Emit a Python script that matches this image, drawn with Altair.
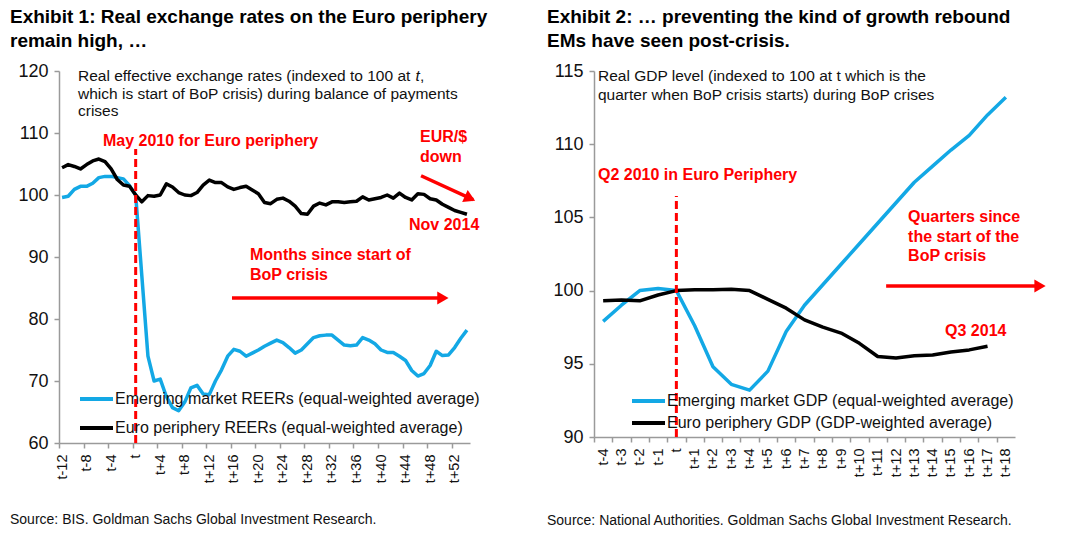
import altair as alt
import pandas as pd

FONT = "Liberation Sans"
RED = "#ff0000"
BLUE = "#13a8e5"
BLACK = "#000000"
GREY = "#9a9a9a"

# ---------------- Exhibit 1: monthly REERs, t-12 .. t+54 ----------------
months = list(range(-12, 55))
em_reer = [99.6, 99.8, 100.9, 101.4, 101.4, 101.9, 102.8, 103.0, 103.0, 102.8, 102.6, 101.5,
           100.0, 87.0, 74.0, 70.0, 70.3, 67.5, 65.7, 65.2, 66.6, 68.9, 69.3, 67.9,
           67.8, 70.0, 71.8, 74.0, 75.1, 74.8, 74.0, 74.5, 75.0, 75.6, 76.1, 76.6,
           76.2, 75.4, 74.5, 75.0, 76.0, 77.0, 77.3, 77.4, 77.4, 76.6, 75.8, 75.7,
           75.8, 77.0, 76.6, 76.0, 75.0, 74.6, 74.6, 74.0, 73.3, 71.7, 70.8, 71.2,
           72.5, 74.8, 74.1, 74.2, 75.4, 76.9, 78.2]
euro_reer = [104.4, 104.9, 104.6, 104.2, 104.9, 105.5, 105.8, 105.4, 104.2, 102.5, 101.6, 101.4,
             100.0, 98.9, 99.9, 99.8, 100.0, 101.8, 101.3, 100.4, 100.0, 99.9, 100.4, 101.6,
             102.4, 102.0, 102.0, 101.3, 100.9, 101.2, 101.4, 100.8, 100.2, 98.8, 98.6, 99.3,
             99.5, 99.0, 98.2, 97.0, 96.9, 98.2, 98.7, 98.4, 98.9, 98.9, 98.8, 98.9,
             99.0, 99.7, 99.2, 99.4, 99.6, 100.0, 99.5, 100.3, 99.6, 99.2, 100.2, 100.1,
             99.4, 99.2, 98.5, 98.0, 97.5, 97.2, 96.9]
month_tick_values = list(range(-12, 53, 4))
left_series = ["Emerging market REERs (equal-weighted average)",
               "Euro periphery REERs (equal-weighted average)"]

# ---------------- Exhibit 2: quarterly GDP, t-4 .. t+18 ----------------
quarters = list(range(-4, 19))
em_gdp = [97.9, 99.0, 100.0, 100.15, 100.0, 97.6, 94.8, 93.6, 93.2, 94.5, 97.2, 99.0,
          100.4, 101.8, 103.2, 104.6, 106.0, 107.4, 108.5, 109.6, 110.6, 112.0, 113.2]
euro_gdp = [99.3, 99.35, 99.3, 99.7, 100.0, 100.05, 100.05, 100.1, 100.0, 99.4, 98.8, 98.0,
            97.5, 97.1, 96.4, 95.5, 95.4, 95.55, 95.6, 95.8, 95.95, 96.2, None]
right_series = ["Emerging market GDP (equal-weighted average)",
                "Euro periphery GDP (GDP-weighted average)"]

LABEL_EXPR = "datum.value == 0 ? 't' : (datum.value > 0 ? 't+' + datum.value : 't' + datum.value)"


def one_row():
    return pd.DataFrame({"a": [0]})


def fixed_text(text, x, y, size, weight="normal", color="#111", line_height=None, align="left",
               style="normal"):
    kw = dict(text=text, font=FONT, fontSize=size, fontWeight=weight, color=color,
              align=align, baseline="middle", fontStyle=style)
    if line_height:
        kw["lineHeight"] = line_height
    return alt.Chart(one_row()).mark_text(**kw).encode(x=alt.value(x), y=alt.value(y))


def legend_row(name, color, x1, x2, y, size):
    sw = alt.Chart(one_row()).mark_rule(color=color, strokeWidth=4).encode(
        x=alt.value(x1), x2=alt.value(x2), y=alt.value(y))
    tx = fixed_text(name, x2 + 2, y, size, color="#111")
    return [sw, tx]


def axis(values, **kw):
    base = dict(values=values, grid=False, domainColor=GREY, tickColor=GREY, domainWidth=1.5,
                tickWidth=1.5, tickSize=5, labelColor="#111", labelFont=FONT, labelOverlap=False,
                labelBound=False, labelFlush=False)
    base.update(kw)
    return alt.Axis(**base)


# ======================= LEFT PANEL =======================
LW, LH = 411, 372
lx = alt.Scale(domain=[-12.5, 54.5], nice=False, zero=False)
ly = alt.Scale(domain=[60, 120], nice=False, zero=False)
half_m = LW / 67 / 2
ax_xL = axis(month_tick_values, labelExpr=LABEL_EXPR, labelAngle=270,
             tickOffset=-half_m, labelOffset=half_m, labelPadding=6, labelFontSize=14.5)
ax_yL = axis([60, 70, 80, 90, 100, 110, 120], labelPadding=6, labelFontSize=18)

left_df = pd.DataFrame({
    "m": months + months,
    "v": em_reer + euro_reer,
    "s": [left_series[0]] * len(months) + [left_series[1]] * len(months),
})

xL = alt.X("m:Q", scale=lx, title=None, axis=ax_xL)
yL = alt.Y("v:Q", scale=ly, title=None, axis=ax_yL)

lines_L = alt.Chart(left_df).mark_line(strokeWidth=3.5, strokeJoin="round").encode(
    x=xL, y=yL,
    color=alt.Color("s:N", scale=alt.Scale(domain=left_series, range=[BLUE, BLACK]), legend=None),
)

dash_L = alt.Chart(pd.DataFrame({"m": [0], "v": [60], "v2": [107.4]})).mark_rule(
    color=RED, strokeWidth=3, strokeDash=[8, 4]).encode(x=xL, y=yL, y2="v2:Q")

arrows_L = pd.DataFrame({"m": [46.52, 15.7], "v": [103.11, 83.4],
                         "m2": [55.0, 50.2], "v2": [99.25, 83.4]})
arrow_lines_L = alt.Chart(arrows_L).mark_rule(color=RED, strokeWidth=3.5).encode(
    x=xL, y=yL, x2="m2:Q", y2="v2:Q")
head_diag_L = alt.Chart(pd.DataFrame({"m": [55.32], "v": [99.08]})).mark_point(
    shape="triangle-right", filled=True, color=RED, opacity=1, size=170, angle=25,
    xOffset=-5, yOffset=-2.3).encode(x=xL, y=yL)
head_h_L = alt.Chart(pd.DataFrame({"m": [50.9], "v": [83.4]})).mark_point(
    shape="triangle-right", filled=True, color=RED, opacity=1, size=170,
    xOffset=-5).encode(x=xL, y=yL)

ann_L = pd.DataFrame({
    "m": [-5.33, 46.35, 44.56, 18.64],
    "v": [108.7, 109.35, 95.1, 90.32],
    "label": ["May 2010 for Euro periphery", "EUR/$\ndown", "Nov 2014",
              "Months since start of\nBoP crisis"],
})
ann_text_L = alt.Chart(ann_L).mark_text(
    align="left", baseline="middle", font=FONT, fontSize=16, fontWeight="bold",
    color=RED, lineBreak="\n", lineHeight=19.5).encode(x=xL, y=yL, text="label:N")

title_L = fixed_text(["Exhibit 1: Real exchange rates on the Euro periphery", "remain high, \u2026"],
                     -49, -54, 19, weight="bold", color="#000", line_height=24)
# subtitle: first line split so the "t" can be italic
sub_L1a = fixed_text("Real effective exchange rates (indexed to 100 at", 19, 5, 15.5, color="#111")
sub_L1b = fixed_text("t", 19 + 337.5, 5, 15.5, color="#111", style="italic")
sub_L1c = fixed_text(",", 19 + 342.0, 5, 15.5, color="#111")
sub_L2 = fixed_text(["which is start of BoP crisis) during balance of payments", "crises"],
                    19, 22.5, 15.5, color="#111", line_height=17.5)
src_L = fixed_text("Source: BIS. Goldman Sachs Global Investment Research.", -49, 449, 14)
leg_L = legend_row(left_series[0], BLUE, 21, 54, 328, 16) + legend_row(left_series[1], BLACK, 21, 54, 357, 16)

left = alt.layer(lines_L, dash_L, arrow_lines_L, head_diag_L, head_h_L, ann_text_L,
                 title_L, sub_L1a, sub_L1b, sub_L1c, sub_L2, src_L, *leg_L).properties(width=LW, height=LH)

# ======================= RIGHT PANEL =======================
RW, RH = 421, 366
rx = alt.Scale(domain=[-4.5, 18.5], nice=False, zero=False)
ry = alt.Scale(domain=[90, 115], nice=False, zero=False)
half_q = RW / 23 / 2
ax_xR = axis(quarters, labelExpr=LABEL_EXPR, labelAngle=270,
             tickOffset=-half_q, labelOffset=half_q, labelPadding=6, labelFontSize=14.5)
ax_yR = axis([90, 95, 100, 105, 110, 115], labelPadding=6, labelFontSize=18)

right_df = pd.DataFrame({
    "q": quarters + quarters,
    "v": em_gdp + euro_gdp,
    "s": [right_series[0]] * len(quarters) + [right_series[1]] * len(quarters),
}).dropna()

xR = alt.X("q:Q", scale=rx, title=None, axis=ax_xR)
yR = alt.Y("v:Q", scale=ry, title=None, axis=ax_yR)

lines_R = alt.Chart(right_df).mark_line(strokeWidth=3.5, strokeJoin="round").encode(
    x=xR, y=yR,
    color=alt.Color("s:N", scale=alt.Scale(domain=right_series, range=[BLUE, BLACK]), legend=None),
)

dash_R = alt.Chart(pd.DataFrame({"q": [0], "v": [90], "v2": [106.46]})).mark_rule(
    color=RED, strokeWidth=3, strokeDash=[8, 4]).encode(x=xR, y=yR, y2="v2:Q")

arrow_R = alt.Chart(pd.DataFrame({"q": [11.46], "v": [100.31], "q2": [19.9], "v2": [100.31]})).mark_rule(
    color=RED, strokeWidth=3.5).encode(x=xR, y=yR, x2="q2:Q", y2="v2:Q")
head_R = alt.Chart(pd.DataFrame({"q": [20.14], "v": [100.31]})).mark_point(
    shape="triangle-right", filled=True, color=RED, opacity=1, size=170,
    xOffset=-5).encode(x=xR, y=yR)

ann_R = pd.DataFrame({
    "q": [-4.28, 12.66, 14.68],
    "v": [107.9, 105.03, 97.24],
    "label": ["Q2 2010 in Euro Periphery", "Quarters since\nthe start of the\nBoP crisis", "Q3 2014"],
})
ann_text_R = alt.Chart(ann_R).mark_text(
    align="left", baseline="middle", font=FONT, fontSize=16, fontWeight="bold",
    color=RED, lineBreak="\n", lineHeight=19.7).encode(x=xR, y=yR, text="label:N")

title_R = fixed_text(["Exhibit 2: \u2026 preventing the kind of growth rebound", "EMs have seen post-crisis."],
                     -47, -54, 19, weight="bold", color="#000", line_height=24)
sub_R = fixed_text(["Real GDP level (indexed to 100 at t which is the",
                    "quarter when BoP crisis starts) during BoP crises"],
                   4, 5, 15.5, color="#111", line_height=18.5)
src_R = fixed_text("Source: National Authorities. Goldman Sachs Global Investment Research.", -47, 450, 14)
leg_R = legend_row(right_series[0], BLUE, 38, 71, 330, 16) + legend_row(right_series[1], BLACK, 38, 71, 352, 16)

right = alt.layer(lines_R, dash_R, arrow_R, head_R, ann_text_R,
                  title_R, sub_R, src_R, *leg_R).properties(width=RW, height=RH)

chart = alt.hconcat(left, right, spacing=124, bounds="flush").properties(
    padding={"left": 10, "top": 8, "right": 5, "bottom": 5},
    background="white",
).configure_view(stroke=None)

chart.save("out.html", embed_options={"renderer": "svg", "actions": False})
